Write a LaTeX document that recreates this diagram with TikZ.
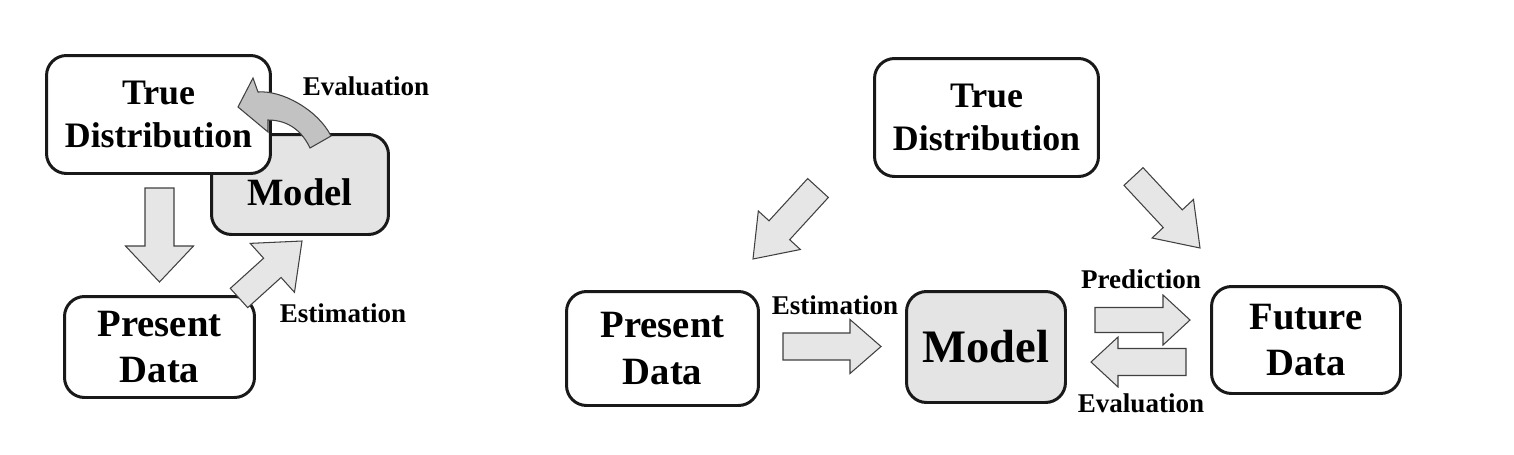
\documentclass[tikz,border=0pt]{standalone}
\usepackage{fontspec}
\setmainfont{Liberation Serif}
\usetikzlibrary{calc}

\definecolor{boxgray}{HTML}{E4E4E4}
\definecolor{arrgray}{HTML}{E6E6E6}
\definecolor{curvegray}{HTML}{C2C2C2}
\newcommand{\pxu}{0.02cm}

\tikzset{
  box/.style={draw=black!90, line width=1.7pt, rounded corners=0.4cm, fill=white,
    align=center, inner sep=0pt, font=\bfseries\fontsize{22}{26.4}\selectfont},
  modelbox/.style={box, fill=boxgray},
  arrowbody/.style={draw=black!75, line width=0.6pt, fill=arrgray},
  lbl/.style={anchor=base, inner sep=0pt, font=\bfseries\fontsize{15.4}{18}\selectfont}
}

% block arrow: tail, tip, shaft half width, head half width, head length (in px)
\newcommand{\blockarrow}[5]{%
  \coordinate (hb) at ($(#2)!#5*\pxu!(#1)$);
  \filldraw[arrowbody] ($(#1)!#3*\pxu!90:(#2)$) -- ($(hb)!#3*\pxu!90:(#2)$)
    -- ($(hb)!#4*\pxu!90:(#2)$) -- (#2) -- ($(hb)!#4*\pxu!-90:(#2)$)
    -- ($(hb)!#3*\pxu!-90:(#2)$) -- ($(#1)!#3*\pxu!-90:(#2)$) -- cycle;
}

\begin{document}
\begin{tikzpicture}[x=0.02cm, y=-0.02cm]
        \useasboundingbox (0,0) rectangle (1514,454);

        % left picture
        \node[modelbox, minimum width=3.54cm, minimum height=2cm, text height=24pt, text depth=0pt] (lmodel) at (300,184.5) {Model};
        \node[box, font=\bfseries\fontsize{20.4}{24.5}\selectfont, minimum width=4.48cm, minimum height=2.36cm] (ltrue) at (158.5,114.5) {True\\Distribution};
        \node[box, minimum width=3.8cm, minimum height=2.02cm] (lpres) at (159.5,347) {Present\\Data};

        \coordinate (ldown-tail) at (159.5,188);
        \coordinate (ldown-tip) at (159.5,282);
        \blockarrow{ldown-tail}{ldown-tip}{14.5}{34}{36}
        \coordinate (lest-tail) at (239,298);
        \coordinate (lest-tip) at (302,241);
        \blockarrow{lest-tail}{lest-tip}{13}{33}{40}
        \filldraw[arrowbody, fill=curvegray] (238,107) -- (253,78) -- (258,92)
            .. controls (282,90) and (318,110) .. (331,136) -- (310,148)
            .. controls (303,133) and (290,120) .. (268,120) -- (268,132) -- cycle;

        \node[lbl] (leval) at (366,95) {Evaluation};
        \node[lbl] (lestim) at (343,322) {Estimation};

        % right picture
        \node[box, font=\bfseries\fontsize{20.4}{24.5}\selectfont, minimum width=4.48cm, minimum height=2.36cm] (rtrue) at (986.5,117.5) {True\\Distribution};
        \node[box, minimum width=3.84cm, minimum height=2.28cm] (rpres) at (662.5,348.5) {Present\\Data};
        \node[modelbox, font=\bfseries\fontsize{26.5}{30}\selectfont, minimum width=3.18cm, minimum height=2.22cm] (rmodel) at (986,347) {Model};
        \node[box, minimum width=3.78cm, minimum height=2.14cm] (rfut) at (1306,340) {Future\\Data};

        \coordinate (rtp-tail) at (818,188);
        \coordinate (rtp-tip) at (753,259);
        \blockarrow{rtp-tail}{rtp-tip}{14}{28.5}{39}
        \coordinate (rtf-tail) at (1133.5,176.5);
        \coordinate (rtf-tip) at (1200,248);
        \blockarrow{rtf-tail}{rtf-tip}{13}{28.3}{40}
        \coordinate (rest-tail) at (783,346.5);
        \coordinate (rest-tip) at (881,346.5);
        \blockarrow{rest-tail}{rest-tip}{13.5}{27}{31}
        \coordinate (rpred-tail) at (1095,320);
        \coordinate (rpred-tip) at (1190,320);
        \blockarrow{rpred-tail}{rpred-tip}{12.5}{25}{27}
        \coordinate (reval-tail) at (1186,362);
        \coordinate (reval-tip) at (1091,362);
        \blockarrow{reval-tail}{reval-tip}{13.5}{25}{27}

        \node[lbl] (restim) at (835,314) {Estimation};
        \node[lbl] (rpredl) at (1141,288) {Prediction};
        \node[lbl] (revall) at (1141,412) {Evaluation};

    \end{tikzpicture}
\end{document}
